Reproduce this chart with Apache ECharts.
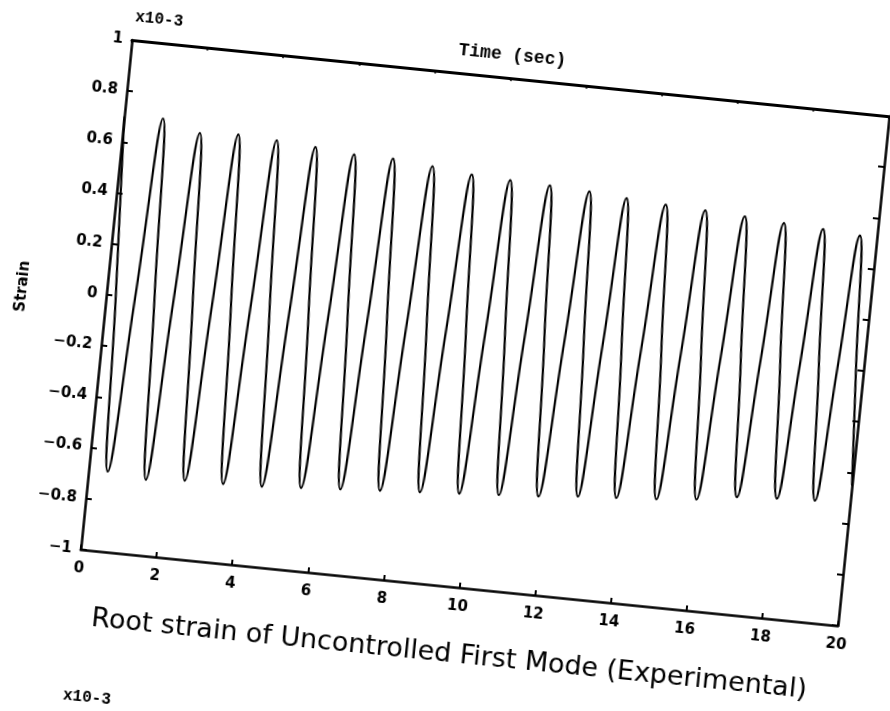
<!DOCTYPE html>
<html>
<head>
<meta charset="utf-8">
<script src="https://cdn.jsdelivr.net/npm/echarts@6/dist/echarts.min.js"></script>
<style>
  html, body { margin:0; padding:0; background:#fff; overflow:hidden; width:890px; height:711px; }
  #chart { position:absolute; left:0; top:0; width:1000px; height:800px;
           transform-origin:132px 40px; transform:rotate(5.75deg); }
</style>
</head>
<body>
<div id="chart"></div>
<script>
// Time (sec) of each read point: peaks, zero crossings, troughs
const timeSec = [
  0.00, 0.25, 0.50, 0.76, 1.02, 1.27, 1.52, 1.77, 2.02, 2.28, 2.54, 2.79,
  3.03, 3.29, 3.55, 3.80, 4.05, 4.31, 4.57, 4.83, 5.08, 5.34, 5.60, 5.86,
  6.11, 6.37, 6.63, 6.89, 7.14, 7.41, 7.67, 7.93, 8.19, 8.46, 8.72, 8.98,
  9.24, 9.50, 9.75, 10.01, 10.26, 10.53, 10.79, 11.05, 11.31, 11.57, 11.83, 12.10,
  12.36, 12.61, 12.86, 13.11, 13.35, 13.61, 13.87, 14.13, 14.39, 14.66, 14.92, 15.18,
  15.44, 15.71, 15.97, 16.23, 16.49, 16.76, 17.02, 17.28, 17.53, 17.80, 18.07, 18.32,
  18.57, 18.82, 19.07, 19.31, 19.55, 19.80, 20.00
];
// Strain (x10^-3) read at those times
const strainE3 = [
  0.700, 0, -0.687, 0, 0.707, 0, -0.704, 0, 0.665, 0, -0.692, 0,
  0.674, 0, -0.690, 0, 0.667, 0, -0.685, 0, 0.656, 0, -0.675, 0,
  0.642, 0, -0.665, 0, 0.641, 0, -0.655, 0, 0.627, 0, -0.645, 0,
  0.610, 0, -0.635, 0, 0.603, 0, -0.625, 0, 0.598, 0, -0.615, 0,
  0.590, 0, -0.600, 0, 0.579, 0, -0.590, 0, 0.569, 0, -0.580, 0,
  0.562, 0, -0.565, 0, 0.554, 0, -0.540, 0, 0.544, 0, -0.530, 0,
  0.536, 0, -0.523, 0, 0.525, 0, -0.450
];
const xTickValues = [0, 2, 4, 6, 8, 10, 12, 14, 16, 18, 20];
const yTickLabels = ['\u22121', '\u22120.8', '\u22120.6', '\u22120.4', '\u22120.2', '0', '0.2', '0.4', '0.6', '0.8', '1'];

const chart = echarts.init(document.getElementById('chart'), null, {renderer:'canvas'});
const black = '#000';
const tickFont = {color:black, fontWeight:'bold', fontSize:15, fontFamily:'DejaVu Sans'};
const axisLine = {show:true, onZero:false, lineStyle:{color:black, width:2.5}};

const option = {
  animation:false,
  backgroundColor:'#fff',
  grid:{left:132, top:40, width:761, height:512, containLabel:false},
  xAxis:[
    {type:'value', min:0, max:20, interval:2, position:'bottom',
     axisLine:axisLine,
     axisTick:{show:true, inside:true, length:5, lineStyle:{color:black, width:2}},
     axisLabel:Object.assign({margin:12, formatter:v => String(xTickValues[Math.round(v/2)])}, tickFont),
     splitLine:{show:false}},
    {type:'value', min:0, max:20, interval:2, position:'top',
     axisLine:{show:true, onZero:false, lineStyle:{color:black, width:3}},
     axisTick:{show:true, inside:true, length:3, lineStyle:{color:black, width:1.5}},
     axisLabel:{show:false}, splitLine:{show:false}}
  ],
  yAxis:[
    {type:'value', min:-1, max:1, interval:0.2, position:'left',
     axisLine:axisLine,
     axisTick:{show:true, inside:true, length:6, lineStyle:{color:black, width:2}},
     axisLabel:Object.assign({margin:9, formatter:v => yTickLabels[Math.round((v + 1) / 0.2)]}, tickFont),
     splitLine:{show:false}},
    {type:'value', min:-1, max:1, interval:0.2, position:'right',
     axisLine:axisLine,
     axisTick:{show:true, inside:true, length:6, lineStyle:{color:black, width:2}},
     axisLabel:{show:false}, splitLine:{show:false}}
  ],
  series:[{
    type:'line', xAxisIndex:0, yAxisIndex:0,
    data: timeSec.map((t, i) => [t, strainE3[i]]),
    smooth:0.5, symbol:'none',
    lineStyle:{color:black, width:2.2}
  }],
  graphic:[
    {type:'text', x:133, y:17, style:{text:'x10-3', font:'bold 16px "Liberation Mono"', fill:black, align:'left', verticalAlign:'middle'}},
    {type:'text', x:512, y:17, style:{text:'Time (sec)', font:'bold 18px "Liberation Mono"', fill:black, align:'center', verticalAlign:'middle'}},
    {type:'text', x:48, y:296, rotation:Math.PI/2, style:{text:'Strain', font:'bold 15px "DejaVu Sans"', fill:black, align:'center', verticalAlign:'middle'}},
    {type:'text', x:509, y:620, style:{text:'Root strain of Uncontrolled First Mode (Experimental)', font:'27px "DejaVu Sans"', fill:black, align:'center', verticalAlign:'middle'}},
    {type:'text', x:129, y:699, style:{text:'x10-3', font:'bold 16px "Liberation Mono"', fill:black, align:'left', verticalAlign:'middle'}}
  ]
};
chart.setOption(option);
</script>
</body>
</html>
